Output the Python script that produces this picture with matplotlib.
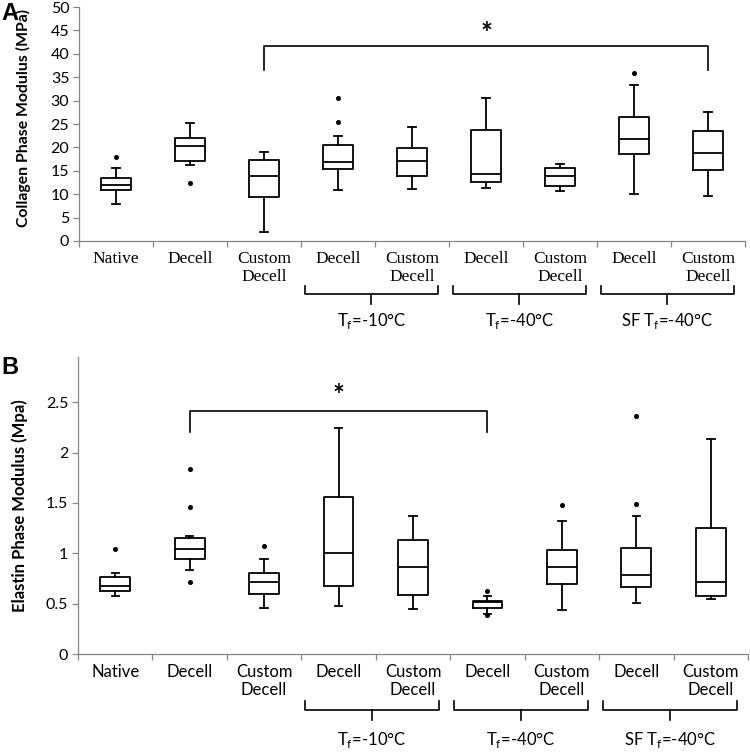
import matplotlib
matplotlib.use("Agg")
import matplotlib.pyplot as plt
from matplotlib.transforms import blended_transform_factory
import numpy as np

# ---------------- data ----------------
categories = ["Native", "Decell", "Custom\nDecell", "Decell", "Custom\nDecell",
              "Decell", "Custom\nDecell", "Decell", "Custom\nDecell"]
groups = ["T$_\\mathregular{f}$=-10°C", "T$_\\mathregular{f}$=-40°C", "SF T$_\\mathregular{f}$=-40°C"]
group_members = [(4, 5), (6, 7), (8, 9)]

# Collagen phase modulus (MPa): whislo, q1, median, q3, whishi
col_whislo = [7.9, 16.3, 1.9, 10.9, 11.1, 11.4, 10.7, 10.1, 9.6]
col_q1     = [10.8, 17.2, 9.4, 15.4, 13.9, 12.7, 11.7, 18.5, 15.1]
col_med    = [11.9, 20.3, 13.9, 16.8, 17.1, 14.4, 13.9, 21.9, 18.7]
col_q3     = [13.5, 22.1, 17.4, 20.6, 19.8, 23.8, 15.6, 26.4, 23.4]
col_whishi = [15.5, 25.3, 19.1, 22.4, 24.4, 30.6, 16.5, 33.4, 27.6]
col_fliers = [[18.0], [12.4], [], [30.5, 25.5], [], [], [], [35.9], []]

# Elastin phase modulus (MPa)
ela_whislo = [0.574, 0.830, 0.452, 0.478, 0.445, 0.398, 0.438, 0.505, 0.548]
ela_q1     = [0.624, 0.943, 0.594, 0.674, 0.588, 0.455, 0.700, 0.664, 0.574]
ela_med    = [0.674, 1.046, 0.717, 1.006, 0.867, 0.518, 0.863, 0.784, 0.717]
ela_q3     = [0.767, 1.152, 0.800, 1.564, 1.132, 0.528, 1.033, 1.056, 1.248]
ela_whishi = [0.800, 1.172, 0.943, 2.248, 1.368, 0.574, 1.321, 1.371, 2.135]
ela_fliers = [[1.04], [1.836, 1.457, 0.717], [1.076], [], [], [0.627, 0.388], [1.477], [2.364, 1.487], []]

# significance brackets: (cat_left, cat_right, y_top, y_bottom_of_legs, y_star)
col_sig = (3, 9, 41.6, 36.6, 44.2)
ela_sig = (2, 6, 2.417, 2.208, 2.56)

W, H = 750, 754
fig = plt.figure(figsize=(W / 100, H / 100), dpi=100)

SANS = ["Lato", "DejaVu Sans"]
SERIF = ["Liberation Serif", "DejaVu Serif"]
AXCOL = "#868686"


def make_stats(wl, q1, med, q3, wh, fl):
    return [dict(whislo=a, q1=b, med=c, q3=d, whishi=e, fliers=f)
            for a, b, c, d, e, f in zip(wl, q1, med, q3, wh, fl)]


def draw_panel(ax, stats, ylim, yticks, ylabel, ylab_size, label_font, label_size,
               ylab_coords, sig, group_y, letter, letter_xy):
    pos = np.arange(1, len(stats) + 1)
    lw = 1.3
    ax.bxp(stats, positions=pos, widths=0.4, showfliers=True,
           boxprops=dict(color="black", linewidth=lw),
           whiskerprops=dict(color="black", linewidth=lw),
           capprops=dict(color="black", linewidth=lw),
           medianprops=dict(color="black", linewidth=lw),
           flierprops=dict(marker="o", markersize=2.6, markerfacecolor="black",
                           markeredgecolor="black", linestyle="none"),
           capwidths=0.1)
    ax.set_xlim(0.5, len(stats) + 0.5)
    ax.set_ylim(*ylim)
    ax.set_yticks(yticks)
    ax.set_yticklabels([("%g" % t) for t in yticks], fontfamily=SANS, fontsize=11.5)
    ax.set_xticks(pos)
    ax.set_xticklabels(categories, fontfamily=label_font, fontsize=label_size,
                       linespacing=1.15)
    ax.set_xticks(np.arange(0.5, len(stats) + 1.0, 1.0), minor=True)
    ax.tick_params(axis="x", which="major", length=0, pad=7)
    ax.tick_params(axis="x", which="minor", length=4, color=AXCOL, width=0.9, direction="out")
    ax.tick_params(axis="y", length=4, color=AXCOL, width=0.9, direction="out", pad=3)
    for s in ("top", "right"):
        ax.spines[s].set_visible(False)
    for s in ("left", "bottom"):
        ax.spines[s].set_color(AXCOL)
        ax.spines[s].set_linewidth(0.9)
    ax.set_ylabel(ylabel, fontfamily=SANS, fontweight="bold", fontsize=ylab_size)
    ax.yaxis.set_label_coords(*ylab_coords)

    # significance bracket
    cl, cr, yt, yb, ys = sig
    ax.plot([cl, cl, cr, cr], [yb, yt, yt, yb], color="black", linewidth=1.2,
            solid_joinstyle="round", clip_on=False)
    ax.text((cl + cr) / 2, ys, "*", ha="center", va="center", fontsize=20,
            fontweight="bold", fontfamily=SANS, clip_on=False)

    # group brackets under the axis (y in figure pixels from top)
    tr = blended_transform_factory(ax.transData, fig.transFigure)
    y_leg, y_bar, y_tick, y_lab = group_y
    fy = lambda p: 1 - p / H
    for name, (a, b) in zip(groups, group_members):
        xl, xr = a - 0.45, b + 0.35
        xm = (xl + xr) / 2
        ax.plot([xl, xl, xr, xr], [fy(y_leg), fy(y_bar), fy(y_bar), fy(y_leg)],
                color="black", linewidth=1.2, transform=tr, clip_on=False)
        ax.plot([xm, xm], [fy(y_bar), fy(y_tick)], color="black", linewidth=1.2,
                transform=tr, clip_on=False)
        ax.text(xm, fy(y_lab), name, ha="center", va="center", fontsize=12,
                fontfamily=SANS, transform=tr)

    fig.text(letter_xy[0] / W, 1 - letter_xy[1] / H, letter, fontsize=17,
             fontweight="bold", fontfamily=["Liberation Sans", "DejaVu Sans"],
             ha="left", va="center")


ax1 = fig.add_axes([79 / W, 1 - 241 / H, 666 / W, 234 / H])
draw_panel(ax1,
           make_stats(col_whislo, col_q1, col_med, col_q3, col_whishi, col_fliers),
           (0, 50), np.arange(0, 51, 5), "Collagen Phase Modulus (MPa)", 11.3,
           SERIF, 12.5, (-0.072, 0.525), col_sig,
           (286, 294, 304, 321), "A", (1, 14))

ax2 = fig.add_axes([78 / W, 1 - 654 / H, 670 / W, 297 / H])
draw_panel(ax2,
           make_stats(ela_whislo, ela_q1, ela_med, ela_q3, ela_whishi, ela_fliers),
           (0, 2.95), [0, 0.5, 1, 1.5, 2, 2.5], "Elastin Phase Modulus (Mpa)", 12,
           SANS, 12, (-0.075, 0.5), ela_sig,
           (701, 710, 720, 740), "B", (1, 367))

fig.savefig("out.png", dpi=100)
